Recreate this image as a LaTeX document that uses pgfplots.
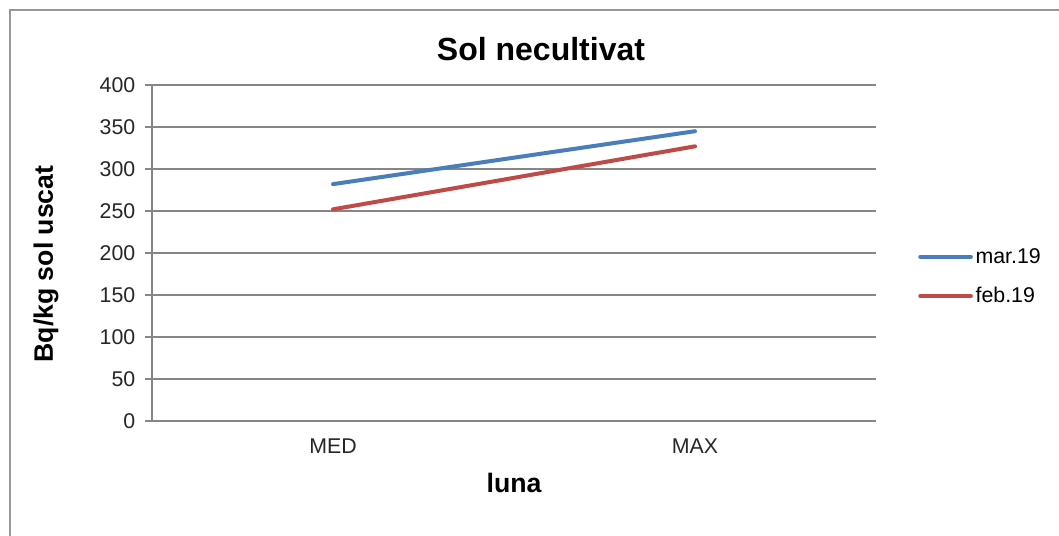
\documentclass[border=0pt]{standalone}
\usepackage{pgfplots}
\pgfplotsset{compat=1.18}
\usepackage{fontspec}
\setmainfont{Liberation Sans}
\definecolor{cblue}{HTML}{4A7EBB}
\definecolor{cred}{HTML}{BE4B48}
\definecolor{cgrid}{HTML}{868686}
\begin{document}
\begin{tikzpicture}[x=0.75pt,y=-0.75pt]
\useasboundingbox (0,0) rectangle (1059,535);
\draw[cgrid!85, line width=2.2pt] (10,540) -- (10,10) -- (1065,10);
\coordinate (o) at (152,421);
\begin{axis}[
  at={(o)}, anchor=south west,
  scale only axis, width=543pt, height=252pt,
  xmin=-0.5, xmax=1.5, ymin=0, ymax=400,
  ytick={0,50,...,400},
  xtick={0,1}, xticklabels={MED,MAX},
  major x tick style={draw=none},
  extra x ticks={-0.5,0.5,1.5}, extra x tick labels={},
  extra x tick style={major tick length=5pt, tick style={cgrid, line width=0.8pt}, grid=none},
  tick align=outside, tick pos=left,
  major tick length=5pt,
  ymajorgrids, grid style={cgrid, line width=0.8pt},
  y tick style={cgrid, line width=0.8pt},
  axis x line*=bottom, axis y line*=left,
  axis line style={cgrid, line width=0.8pt},
  /pgf/number format/assume math mode=true,
  tick label style={font=\fontsize{16}{18}\selectfont, text=black!85},
  yticklabel style={xshift=-4pt},
  xticklabel style={yshift=-5pt},
  legend style={at={(1.058,0.430)}, anchor=west, draw=none, fill=none,
    font=\fontsize{16}{18}\selectfont, row sep=12.5pt, inner sep=0pt,
    cells={anchor=west}},
  legend cell align=left,
  legend image code/.code={\draw[#1, line width=3pt, line cap=round] (0pt,0pt) -- (38pt,0pt);},
]
\addplot[cblue, line width=3pt, line cap=round] coordinates {(0,282) (1,345)};
\addlegendentry{mar.19}
\addplot[cred, line width=3pt, line cap=round] coordinates {(0,252) (1,327)};
\addlegendentry{feb.19}
\end{axis}
\node[font=\fontsize{24}{28}\selectfont\bfseries] at (541,49) {Sol necultivat};
\node[font=\fontsize{20}{24}\selectfont\bfseries, rotate=90] at (46,264) {Bq/kg sol uscat};
\node[font=\fontsize{20}{24}\selectfont\bfseries] at (514,483) {luna};
\end{tikzpicture}
\end{document}
